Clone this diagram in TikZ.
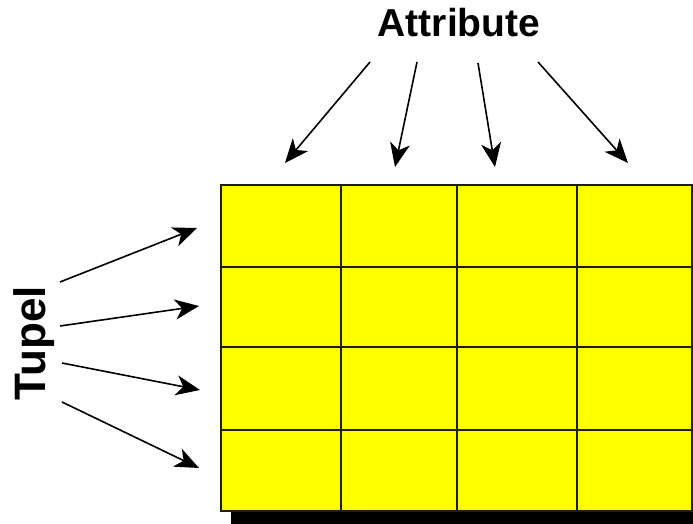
\documentclass[tikz,border=0pt]{standalone}
\usepackage{fontspec}
\setmainfont{Liberation Sans}
\usetikzlibrary{arrows.meta}
\definecolor{cellyellow}{RGB}{255,255,0}
\definecolor{gridline}{RGB}{30,30,20}
\tikzset{
  ptr/.style={line width=1.6pt, -{Stealth[length=24pt,width=20pt,inset=7pt]}},
  lbl/.style={font=\bfseries\fontsize{39}{42}\selectfont, inner sep=0pt}
}
\begin{document}
\begin{tikzpicture}[x=1pt,y=-1pt]
\useasboundingbox (0,0) rectangle (693,524);
% shadow
\fill[black] (231,511) rectangle (693,524);
% grid
\fill[cellyellow] (221,185) rectangle (692,511);
\foreach \x in {341,457,577}{\draw[gridline,line width=1.4pt] (\x,185) -- (\x,511);}
\foreach \y in {267,347,430}{\draw[gridline,line width=1.8pt] (221,\y) -- (692,\y);}
\draw[gridline,line width=1.4pt] (221,185) rectangle (692,511);
% labels
\node[lbl, anchor=base] (attr) at (459,37) {Attribute};
\node[lbl, font=\bfseries\fontsize{44}{48}\selectfont, rotate=90, anchor=base] (tupel) at (45,343) {Tupel};
% attribute arrows
\coordinate (a1s) at (370,62); \coordinate (a1e) at (285,163);
\coordinate (a2s) at (417,62); \coordinate (a2e) at (395,167);
\coordinate (a3s) at (478,63); \coordinate (a3e) at (495,167);
\coordinate (a4s) at (538,62); \coordinate (a4e) at (628,163);
\draw[ptr] (a1s) -- (a1e);
\draw[ptr] (a2s) -- (a2e);
\draw[ptr] (a3s) -- (a3e);
\draw[ptr] (a4s) -- (a4e);
% tupel arrows
\coordinate (t1s) at (60,282); \coordinate (t1e) at (197,228);
\coordinate (t2s) at (60,326); \coordinate (t2e) at (199,306);
\coordinate (t3s) at (62,363); \coordinate (t3e) at (200,390);
\coordinate (t4s) at (62,402); \coordinate (t4e) at (199,468);
\draw[ptr] (t1s) -- (t1e);
\draw[ptr] (t2s) -- (t2e);
\draw[ptr] (t3s) -- (t3e);
\draw[ptr] (t4s) -- (t4e);
\end{tikzpicture}
\end{document}
